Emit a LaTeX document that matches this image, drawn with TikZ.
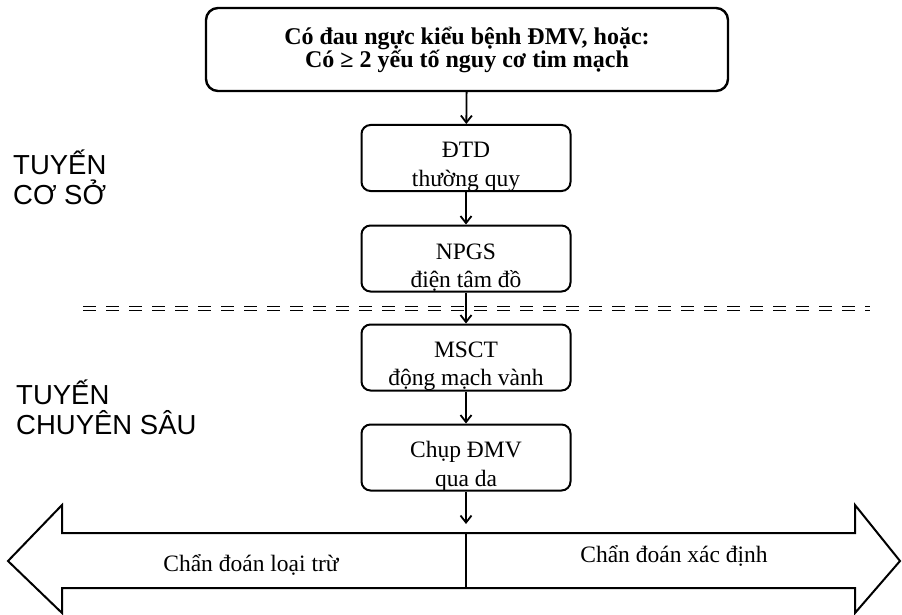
\documentclass[tikz,border=0pt]{standalone}
\usepackage{fontspec}
\setmainfont{Liberation Serif}
\newfontfamily\arialfont{Liberation Sans}
\usetikzlibrary{arrows.meta}

\begin{document}
\begin{tikzpicture}[x=1pt, y=-1pt,
    topbox/.style={draw=black, line width=2.4pt, rounded corners=12pt, minimum width=522pt, minimum height=83pt, align=center, inner sep=0pt, font=\bfseries\fontsize{24}{23}\selectfont},
    stepbox/.style={draw=black, line width=2pt, rounded corners=9pt, minimum width=209pt, minimum height=66pt, inner sep=0pt},
    boxtext/.style={align=center, yshift=-9pt, font=\fontsize{23.5}{28.5}\selectfont},
    level/.style={anchor=west, align=left, inner sep=0pt, font=\arialfont\fontsize{27.5}{30}\selectfont},
    flow/.style={line width=1.8pt, -{Straight Barb[length=7pt, width=11pt, line width=1.8pt]}},
    sepline/.style={line width=1.2pt, dash pattern=on 13pt off 10pt},
    bigarrow/.style={draw=black, line width=2pt, line join=miter}]
    \useasboundingbox (0,0) rectangle (902,615);

    \node[topbox](top) at (467, 49.5){Có đau ngực kiểu bệnh ĐMV, hoặc:\\Có ≥ 2 yếu tố nguy cơ tim mạch};
    \node[stepbox, label={[boxtext]center:{ĐTD\\thường quy}}](dtd) at (466, 158){};
    \node[stepbox, label={[boxtext]center:{NPGS\\điện tâm đồ}}](npgs) at (466, 258.5){};
    \node[stepbox, label={[boxtext]center:{MSCT\\động mạch vành}}](msct) at (466, 357.5){};
    \node[stepbox, label={[boxtext]center:{Chụp ĐMV\\qua da}}](chup) at (466, 457.5){};

    \node[level](coso) at (13, 177){TUYẾN\\CƠ SỞ};
    \node[level](chuyensau) at (16, 407){TUYẾN\\CHUYÊN SÂU};

    \draw[sepline] (83, 306.5) -- (870, 306.5);
    \draw[sepline] (83, 310.5) -- (870, 310.5);

    \draw[bigarrow] (8, 561) -- (62, 505) -- (62, 533) -- (855, 533) -- (855, 505) -- (900, 561)
        -- (855, 613) -- (855, 588) -- (62, 588) -- (62, 613) -- cycle;
    \draw[line width=2pt] (466, 533) -- (466, 588);
    \coordinate (split) at (466, 524);
    \node[font=\fontsize{23.5}{28}\selectfont](loaitru) at (251, 565){Chẩn đoán loại trừ};
    \node[font=\fontsize{23.5}{28}\selectfont](xacdinh) at (674, 556){Chẩn đoán xác định};

    \draw[flow] (top) -- (dtd);
    \draw[flow] (dtd) -- (npgs);
    \draw[flow] (npgs) -- (msct);
    \draw[flow] (msct) -- (chup);
    \draw[flow] (chup) -- (split);
  \end{tikzpicture}
\end{document}
